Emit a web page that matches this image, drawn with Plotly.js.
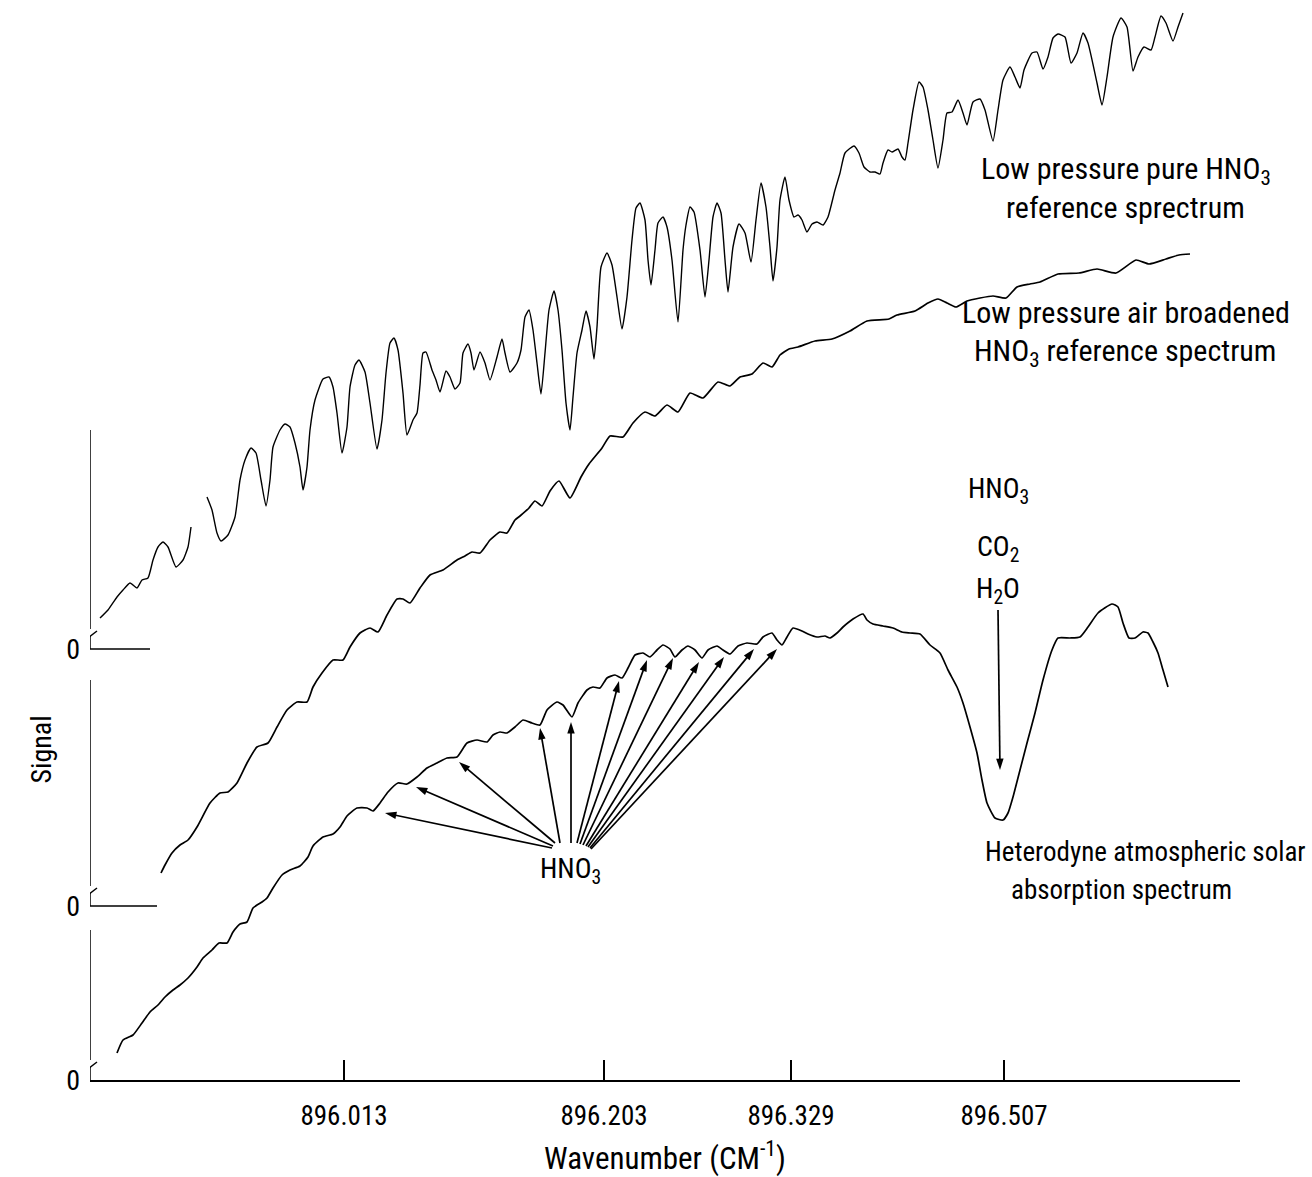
<!DOCTYPE html>
<html>
<head>
<meta charset="utf-8">
<script src="https://cdn.plot.ly/plotly-3.0.1.min.js"></script>
<style>html,body{margin:0;padding:0;background:#fff;}#chart{width:1312px;height:1177px;}</style>
</head>
<body>
<div id="chart"></div>
<script>
// Scan position along the wavenumber axis (non-linear scan, labelled at 4 wavenumbers)
const tickPos = [344, 604, 791, 1004];
const tickLabels = ['896.013', '896.203', '896.329', '896.507'];

// Low pressure pure HNO3 reference spectrum (signal above its own zero)
const pureX = [100,108,117,123,130,137,142,148,153,158,163,168,176,183,188,191,199,207,212,217,221,228,235,240,245,251,256,261,266,270,273,280,285,290,295,300,303,307,310,315,323,329,333,337,342,347,350,355,359,365,370,377,382,386,390,394,398,403,407,413,417,420,423,426,432,436,440,446,450,455,460,463,468,471,474,480,485,490,497,502,505,510,517,521,525,529,533,537,541,545,549,554,558,562,566,570,573,577,582,586,590,594,597,601,607,612,617,622,627,632,636,640,645,648,651,655,658,663,667,672,678,683,686,690,694,700,705,709,713,717,721,725,728,733,739,745,751,756,761,766,770,773,777,780,785,789,794,798,802,807,812,817,823,828,835,840,845,854,859,864,870,875,880,883,888,892,898,902,905,908,913,919,923,928,933,938,943,947,952,958,963,967,973,980,985,993,998,1003,1010,1015,1020,1024,1032,1037,1043,1048,1053,1058,1065,1071,1077,1083,1088,1097,1102,1107,1113,1121,1127,1133,1138,1144,1151,1155,1161,1166,1173,1178,1183];
const pureSig = [31,39,52,59,66,61,69,71,89,102,107,102,82,89,102,122,null,152,139,116,108,114,132,169,189,201,196,169,143,169,202,219,225,222,206,182,159,182,219,249,270,272,262,236,196,222,262,284,289,277,246,200,229,276,306,311,299,256,214,229,236,264,296,297,279,269,257,278,272,260,266,296,305,296,279,297,286,269,292,310,296,277,286,299,332,339,319,286,255,296,339,358,339,299,246,219,252,296,319,338,322,290,322,382,396,384,352,320,352,409,441,446,429,389,364,399,426,432,422,389,327,399,424,442,437,399,352,389,432,446,436,389,357,402,425,416,387,429,466,442,402,368,402,449,472,449,432,434,429,417,425,427,424,432,459,476,496,503,496,482,477,477,475,486,499,497,500,492,489,506,539,567,562,539,509,481,509,536,537,549,536,524,547,550,539,508,539,569,582,572,561,579,596,597,580,592,611,615,612,586,596,616,606,566,544,572,612,631,622,578,592,602,599,612,633,626,608,622,636];

// Low pressure air broadened HNO3 reference spectrum
const airX = [161,165,172,180,188,197,210,220,228,237,247,257,268,277,287,297,307,313,322,333,343,350,360,370,378,387,397,403,410,420,430,443,457,465,472,480,490,500,507,515,520,529,535,542,550,559,570,581,589,602,610,623,633,645,655,667,678,690,703,718,730,740,752,763,772,780,789,798,815,832,850,867,889,897,915,928,938,947,956,967,980,993,1006,1017,1030,1040,1058,1079,1097,1116,1136,1149,1166,1179,1190];
const airSig = [33,41,53,61,66,79,103,113,114,123,143,159,163,179,196,204,204,219,233,246,246,259,273,278,274,291,307,307,303,318,331,336,346,350,354,353,366,374,373,386,390,398,405,400,415,425,408,429,442,458,470,469,483,494,490,501,494,513,508,524,520,529,532,543,539,551,557,559,565,567,575,585,587,591,595,603,607,603,599,605,608,610,608,619,622,624,632,633,637,633,646,642,647,651,652];

// Heterodyne atmospheric solar absorption spectrum
const atmX = [117,123,133,142,150,158,165,173,180,188,197,203,212,219,227,233,240,247,253,262,267,273,282,290,300,308,313,323,333,340,347,357,367,373,380,388,398,407,417,427,437,447,457,467,477,487,493,500,507,515,523,532,540,547,557,563,572,578,587,593,600,607,615,622,628,635,643,650,657,663,670,675,682,688,695,702,708,717,723,730,738,747,757,763,772,777,782,787,793,802,808,817,825,830,837,843,853,863,867,873,883,893,902,910,920,930,940,948,957,963,970,977,982,987,995,1003,1008,1013,1020,1027,1035,1043,1052,1058,1070,1080,1088,1098,1112,1118,1123,1129,1135,1143,1148,1153,1158,1163,1168];
const atmSig = [27,40,45,57,68,75,83,90,95,102,113,122,130,137,137,148,156,158,172,178,182,192,205,210,214,223,234,243,246,253,264,272,272,269,277,288,297,296,303,312,317,322,323,337,340,338,345,348,347,353,360,357,355,370,378,375,363,377,390,393,392,402,405,402,412,425,427,423,430,435,431,423,430,434,430,422,430,434,430,426,434,437,436,443,447,440,435,443,452,449,446,443,444,442,447,453,461,466,460,456,454,452,448,447,446,435,427,410,393,377,353,327,300,277,262,260,267,283,310,337,367,400,430,442,442,443,453,467,476,473,457,442,442,448,447,438,427,410,393];

// HNO3 line markers (arrow heads on the atmospheric spectrum, tails at the label)
const hnoHeadX = [385,416,459,540,571,619,647,673,699,724,754,777];
const hnoHeadSig = [267,293,318,352,358,399,420,422,418,423,431,431];
const hnoTailX = [552,553,555,560,571,577,580,583,586,588,590,591];
const hnoTailSig = [232,234,237,237,237,237,236,235,234,233,232,231];
// H2O / CO2 / HNO3 blended line marker
const h2oHeadX = [1000], h2oHeadSig = [310], h2oTailX = [998], h2oTailSig = [470];

const FONT = 'Roboto Condensed, Roboto, Liberation Sans, sans-serif';
const INK = '#000';
const lineStyle = (w) => ({color: INK, width: w, shape: 'spline', smoothing: 0.5});

// Arrow trace builder: each arrow is tail -> head, arrowhead marker oriented along the shaft
function arrowTrace(tx, ty, hx, hy) {
  const x = [], y = [], sz = [];
  for (let i = 0; i < hx.length; i++) {
    x.push(tx[i], hx[i], null); y.push(ty[i], hy[i], null); sz.push(0, 12, 0);
  }
  return {x: x, y: y, yaxis: 'y', mode: 'lines+markers', connectgaps: false, hoverinfo: 'skip',
    line: {color: INK, width: 1.7},
    marker: {symbol: 'arrow', angleref: 'previous', size: sz, color: INK, opacity: 1, line: {width: 0}}};
}

const traces = [
  {x: pureX, y: pureSig, yaxis: 'y3', mode: 'lines', line: lineStyle(1.4), connectgaps: false, hoverinfo: 'skip'},
  {x: airX, y: airSig, yaxis: 'y2', mode: 'lines', line: lineStyle(1.7), hoverinfo: 'skip'},
  {x: atmX, y: atmSig, yaxis: 'y', mode: 'lines', line: lineStyle(1.7), hoverinfo: 'skip'},
  arrowTrace(hnoTailX, hnoTailSig, hnoHeadX, hnoHeadSig),
  arrowTrace(h2oTailX, h2oTailSig, h2oHeadX, h2oHeadSig)
];

const annotations = [];
const labels = [
  ['Low pressure pure HNO<sub>3</sub>', 1126, 910, 30],
  ['reference sprectrum', 1125, 873, 30],
  ['Low pressure air broadened', 1126, 768, 30],
  ['HNO<sub>3</sub> reference spectrum', 1125, 728, 30],
  ['HNO<sub>3</sub>', 998, 590, 28],
  ['CO<sub>2</sub>', 998, 532, 28],
  ['H<sub>2</sub>O', 998, 490, 28],
  ['HNO<sub>3</sub>', 570, 210, 28],
  ['Heterodyne atmospheric solar', 1145, 228, 27],
  ['absorption spectrum', 1121, 190, 27]
];
labels.forEach(([t, x, y, s]) => annotations.push({text: t, x: x, y: y, xref: 'x', yref: 'y',
  showarrow: false, font: {family: FONT, size: s, color: INK}, xanchor: 'center', yanchor: 'middle'}));

// y-axis title placed beside the lower part of the axis, as in the original
annotations.push({text: 'Signal', xref: 'paper', yref: 'y', x: -0.043, y: 330, textangle: -90,
  showarrow: false, font: {family: FONT, size: 28, color: INK}, xanchor: 'center', yanchor: 'middle'});

// Broken signal axis: one segment per spectrum, each with a break mark above its zero
const shapes = [];
const axisSeg = [['y3', 219, 60], ['y2', 226, 67], ['y', 150, 0]];
axisSeg.forEach(([yr, top, zlen]) => {
  const ln = {color: INK, width: 1.5};
  shapes.push({type: 'line', xref: 'x', yref: yr, x0: 90, x1: 90, y0: 20, y1: top, line: ln});
  shapes.push({type: 'line', xref: 'x', yref: yr, x0: 90, x1: 90, y0: 0, y1: 13, line: ln});
  shapes.push({type: 'line', xref: 'x', yref: yr, x0: 84, x1: 97, y0: 8, y1: 18, line: ln});
  if (zlen > 0) shapes.push({type: 'line', xref: 'x', yref: yr, x0: 90, x1: 90 + zlen, y0: 0, y1: 0, line: ln});
});

const yBase = {showgrid: false, zeroline: false, showline: false, ticks: '', tickvals: [0], ticktext: ['0'],
  tickfont: {family: FONT, size: 28, color: INK}, fixedrange: true, ticklabelstandoff: 9};

const layout = {
  width: 1312, height: 1177,
  margin: {l: 90, r: 72, t: 0, b: 97},
  paper_bgcolor: '#fff', plot_bgcolor: '#fff',
  showlegend: false,
  xaxis: {range: [90, 1240], showgrid: false, zeroline: false, showline: true, linecolor: INK, linewidth: 1.6,
    ticks: 'inside', ticklen: 20, tickwidth: 1.3, tickcolor: INK, tickvals: tickPos, ticktext: tickLabels,
    tickfont: {family: FONT, size: 27, color: INK}, ticklabelstandoff: 11,
    title: {text: 'Wavenumber (CM<sup>-1</sup>)', font: {family: FONT, size: 31, color: INK}, standoff: 20}},
  yaxis: Object.assign({}, yBase, {range: [0, 1080]}),
  yaxis2: Object.assign({}, yBase, {range: [-174, 906], overlaying: 'y', side: 'left'}),
  yaxis3: Object.assign({}, yBase, {range: [-431, 649], overlaying: 'y', side: 'left'}),
  annotations: annotations,
  shapes: shapes
};

Plotly.newPlot('chart', traces, layout, {staticPlot: true, displayModeBar: false});
</script>
</body>
</html>
